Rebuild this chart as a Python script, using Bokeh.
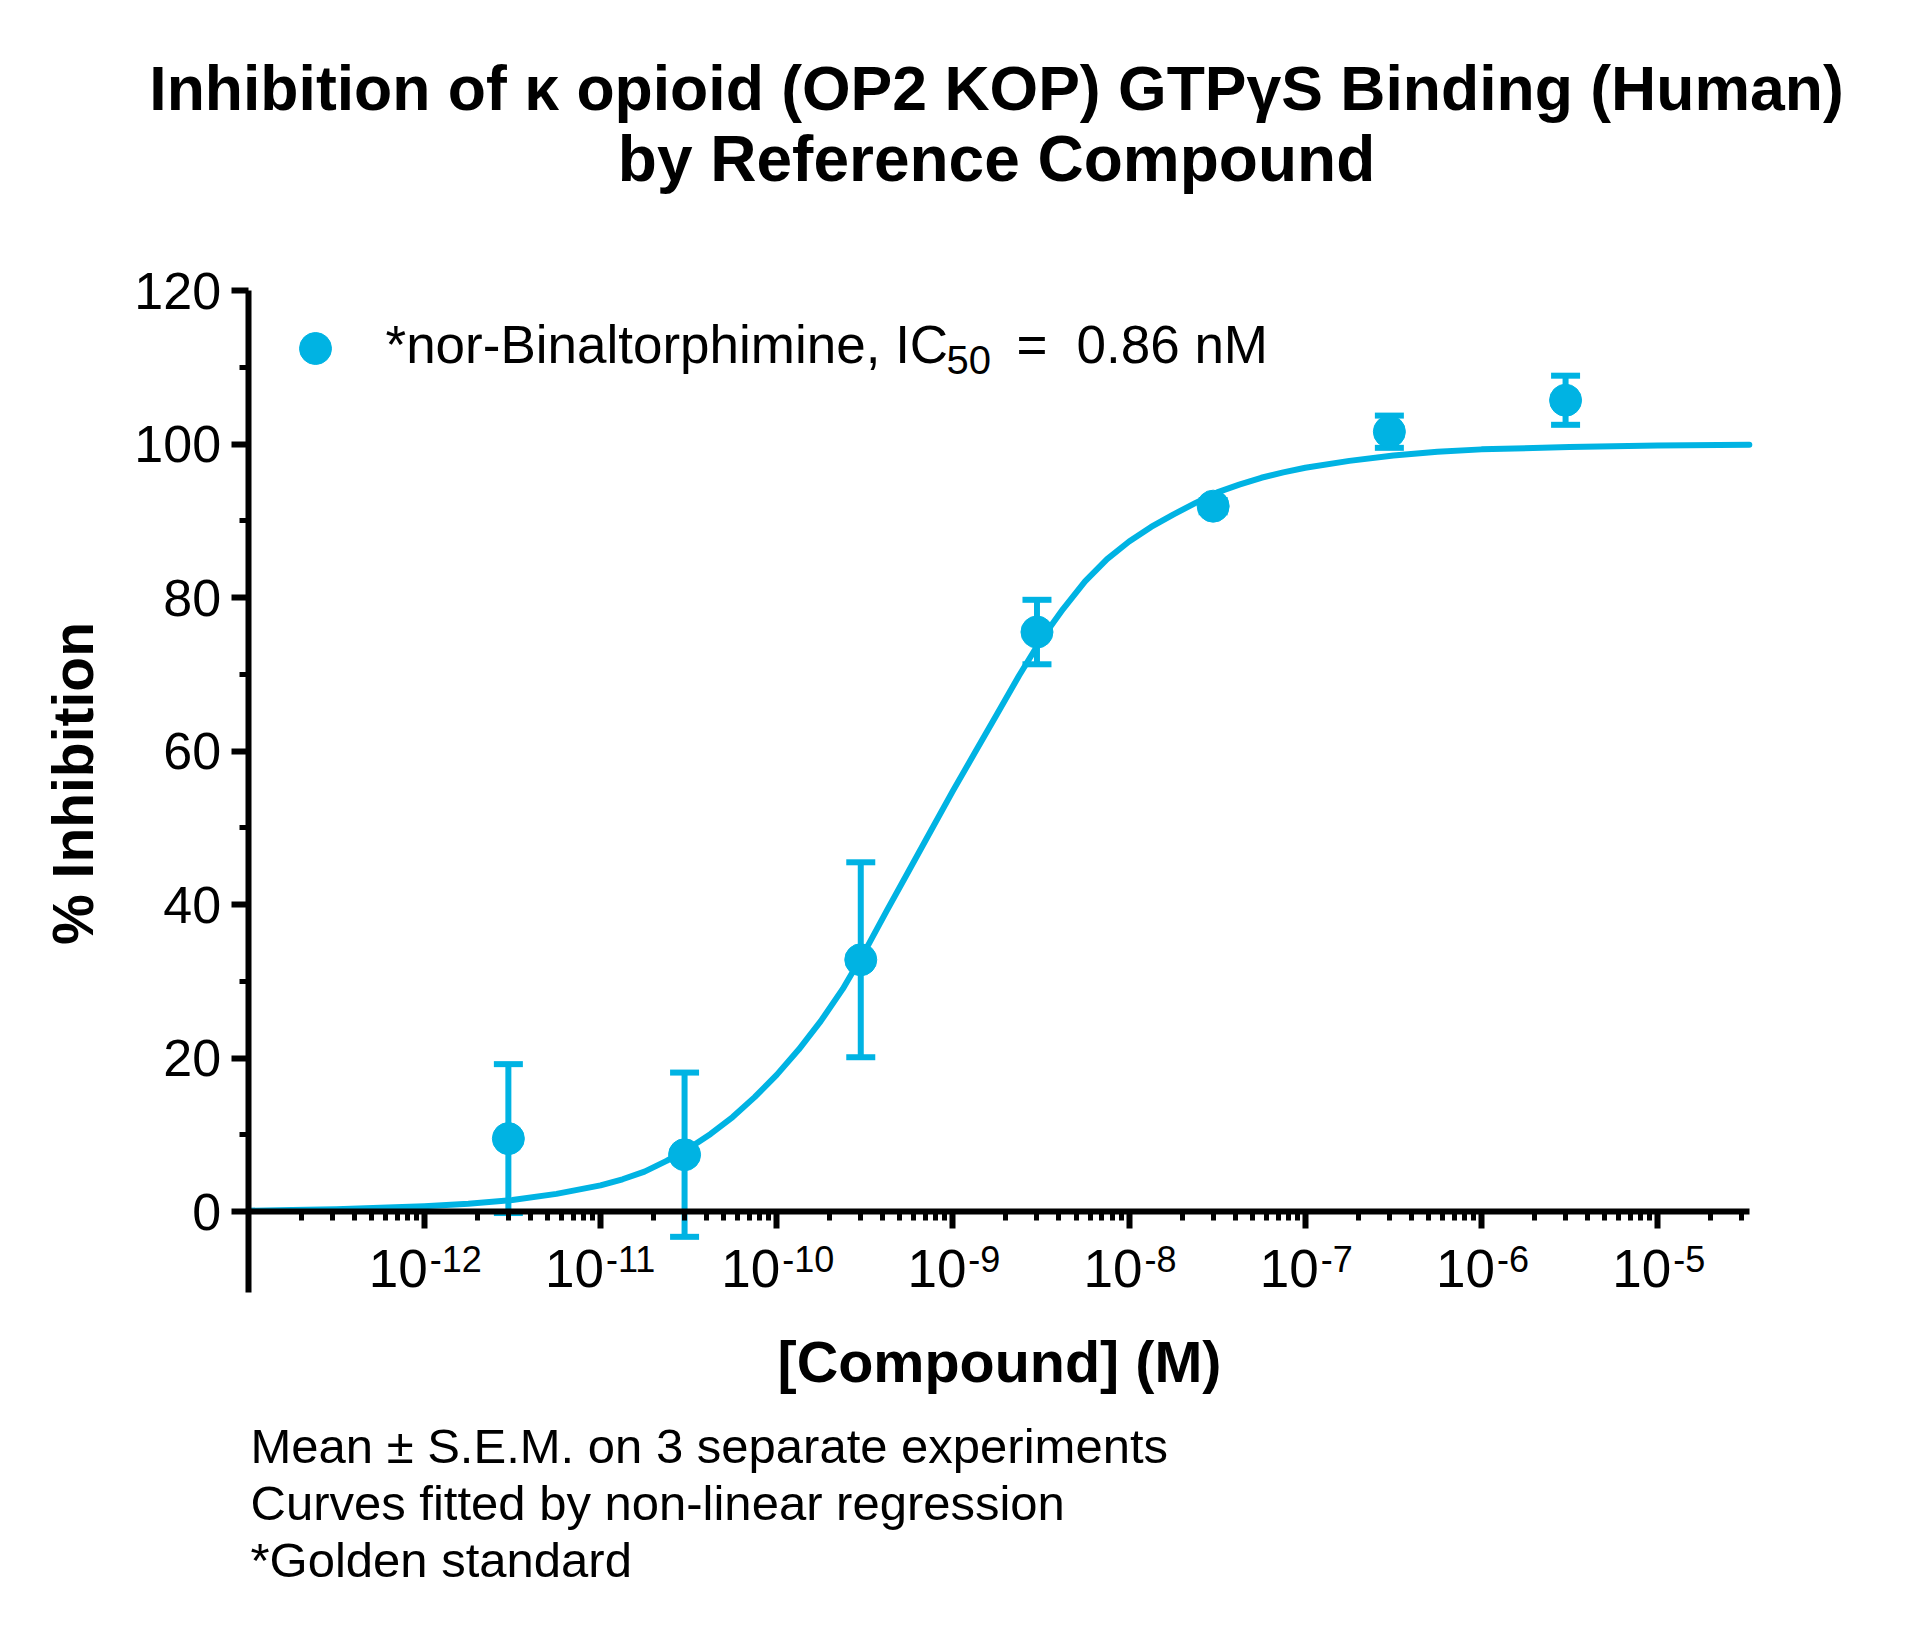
import math
from bokeh.plotting import figure
from bokeh.models import (Range1d, FixedTicker, Label, LabelSet, ColumnDataSource,
                          Whisker, TeeHead, Legend, LegendItem)
from bokeh.core.properties import value
from bokeh.embed import file_html
from bokeh.resources import INLINE

# ---------------- data ----------------
conc_M = [3e-12, 3e-11, 3e-10, 3e-9, 3e-8, 3e-7, 3e-6]
inhib_mean = [9.5, 7.4, 32.8, 75.5, 91.9, 101.6, 105.7]
inhib_sem = [9.7, 10.7, 12.7, 4.2, 0.8, 2.1, 3.2]

curve_log10_M = [-13.0, -12.75, -12.5, -12.25, -12.0, -11.75, -11.5, -11.25, -11.0,
                 -10.875, -10.75, -10.625, -10.5, -10.375, -10.25, -10.125, -10.0,
                 -9.875, -9.75, -9.625, -9.5, -9.375, -9.25, -9.125, -9.0,
                 -8.875, -8.75, -8.625, -8.5, -8.375, -8.25, -8.125, -8.0,
                 -7.875, -7.75, -7.625, -7.5, -7.375, -7.25, -7.125, -7.0,
                 -6.75, -6.5, -6.25, -6.0, -5.5, -5.0, -4.48]
curve_pct = [0.1, 0.2, 0.3, 0.5, 0.7, 1.0, 1.5, 2.3, 3.4,
             4.2, 5.2, 6.6, 8.2, 10.1, 12.3, 14.9, 17.8,
             21.1, 24.8, 29.0, 33.9, 39.2, 44.4, 49.6, 54.8,
             59.8, 64.8, 69.8, 74.5, 78.5, 82.1, 85.0, 87.3,
             89.2, 90.8, 92.3, 93.7, 94.7, 95.6, 96.3, 96.9,
             97.8, 98.5, 99.0, 99.3, 99.6, 99.8, 99.9]

x_major_exp = [-12, -11, -10, -9, -8, -7, -6, -5]
y_major = [0, 20, 40, 60, 80, 100, 120]
y_minor = [10, 30, 50, 70, 90, 110]

title_lines = ["Inhibition of \u03ba opioid (OP2 KOP) GTP\u03b3S Binding (Human)",
               "by Reference Compound"]
legend_name = "*nor-Binaltorphimine, IC"
legend_sub = "50"
legend_eq = "="
legend_value = "0.86 nM"
footer_lines = ["Mean \u00b1 S.E.M. on 3 separate experiments",
                "Curves fitted by non-linear regression",
                "*Golden standard"]
x_title = "[Compound] (M)"
y_title = "% Inhibition"

# ---------------- styling / layout ----------------
BLUE = "#00B3E3"
FONT = "Liberation Sans"
W, H = 1920, 1628

X_DEC_PX = 176.2          # pixels per decade
X_REF_PX, X_REF_LOG = 600.0, -11.0
Y_ZERO_PX, Y_UNIT_PX = 1211.0, 7.675

x_lo = 10 ** (X_REF_LOG - X_REF_PX / X_DEC_PX)
x_hi = 10 ** (X_REF_LOG + (W - X_REF_PX) / X_DEC_PX)
y_hi = Y_ZERO_PX / Y_UNIT_PX
y_lo = (Y_ZERO_PX - H) / Y_UNIT_PX

x_axis_start, x_axis_end = 1e-13, 10 ** -4.479
y_axis_start, y_axis_end = -10.5, 120

p = figure(width=W, height=H, x_axis_type="log",
           x_range=Range1d(x_lo, x_hi), y_range=Range1d(y_lo, y_hi),
           output_backend="svg", toolbar_location=None,
           min_border=0, min_border_left=0, min_border_right=0,
           min_border_top=0, min_border_bottom=0)
p.outline_line_color = None
p.grid.visible = False
p.background_fill_color = "white"
p.border_fill_color = "white"

major_ticks = [10.0 ** e for e in x_major_exp]
minor_ticks = []
for e in range(-13, -4):
    for k in range(2, 10):
        v = k * 10.0 ** e
        if v < x_axis_end:
            minor_ticks.append(v)

xa = p.xaxis[0]
xa.ticker = FixedTicker(ticks=major_ticks, minor_ticks=minor_ticks)
xa.major_label_text_font_size = "0px"
xa.major_label_text_alpha = 0
xa.fixed_location = 0
xa.bounds = (x_axis_start, x_axis_end)
ya = p.yaxis[0]
ya.ticker = FixedTicker(ticks=y_major, minor_ticks=y_minor)
ya.fixed_location = x_axis_start
ya.bounds = (y_axis_start, y_axis_end)
for ax in (xa, ya):
    ax.axis_line_width = 6
    ax.axis_line_color = "black"
    ax.major_tick_line_width = 6
    ax.minor_tick_line_width = 5
    ax.major_tick_out = 17
    ax.major_tick_in = 0
    ax.minor_tick_out = 9
    ax.minor_tick_in = 0
    ax.major_tick_line_color = "black"
    ax.minor_tick_line_color = "black"
ya.major_label_text_font = FONT
ya.major_label_text_font_size = "52px"
ya.major_label_text_color = "black"
ya.major_label_standoff = 10

# fitted curve
curve_x = [10.0 ** v for v in curve_log10_M]
p.line(curve_x, curve_pct, line_color=BLUE, line_width=6, line_join="round",
       line_cap="round")

# error bars + points
src = ColumnDataSource(dict(
    x=conc_M, y=inhib_mean,
    upper=[m + s for m, s in zip(inhib_mean, inhib_sem)],
    lower=[m - s for m, s in zip(inhib_mean, inhib_sem)]))
wh = Whisker(base="x", upper="upper", lower="lower", source=src, dimension="height",
             line_color=BLUE, line_width=6, level="underlay",
             upper_head=TeeHead(size=29, line_color=BLUE, line_width=6),
             lower_head=TeeHead(size=29, line_color=BLUE, line_width=6))
p.add_layout(wh)
pts = p.scatter("x", "y", source=src, marker="circle", size=32,
                fill_color=BLUE, line_color=BLUE)

# legend symbol (box bottom-left in frame pixels)
LEG_CX, LEG_CY, LEG_BOX = 315, 348, 80
leg = Legend(items=[LegendItem(label=" ", renderers=[pts])],
             location=(LEG_CX - LEG_BOX // 2, H - (LEG_CY + LEG_BOX // 2)),
             glyph_width=LEG_BOX, glyph_height=LEG_BOX,
             padding=0, margin=0, label_standoff=0, spacing=0,
             border_line_color=None, background_fill_alpha=0,
             label_text_font_size="1px")
p.add_layout(leg)

BASELINE_FIX = 0.35   # Label draws alphabetic text about 0.35 em lower than asked


def add_text(txt, px, py, size, bold=False, align="left", baseline="alphabetic", angle=0.0):
    if baseline == "alphabetic" and angle == 0.0:
        py = py - BASELINE_FIX * size
    p.add_layout(Label(x=px, y=H - py, x_units="screen", y_units="screen",
                       text=txt, text_font=FONT, text_font_size=f"{size}px",
                       text_font_style="bold" if bold else "normal",
                       text_color="black", text_align=align,
                       text_baseline=baseline, angle=angle))


# titles
add_text(title_lines[0], 996, 109, 62.5, bold=True, align="center")
add_text(title_lines[1], 996, 181, 64, bold=True, align="center")

# legend text
add_text(legend_name, 385, 363, 53)
add_text(legend_sub, 946, 373, 40)
add_text(legend_eq, 1016, 363, 53)
add_text(legend_value, 1076, 363, 53)

# axis titles
add_text(x_title, 999, 1382, 57.5, bold=True, align="center")
add_text(y_title, 72, 783, 57, bold=True, align="center", baseline="middle",
         angle=math.pi / 2)

# footer
for i, line in enumerate(footer_lines):
    add_text(line, 250, 1463 + 57 * i, 49)

# x tick labels: "10" with superscript exponent
BASE_SIZE, SUP_SIZE = 53, 36
w_base = 1.112 * BASE_SIZE
sups = [str(e) for e in x_major_exp]
w_sups = [(0.333 + 0.556 * (len(s) - 1)) * SUP_SIZE for s in sups]
tick_src = ColumnDataSource(dict(
    x=major_ticks,
    base=["10"] * len(major_ticks),
    sup=sups,
    dxb=[(w_base - ws) / 2 for ws in w_sups],
    dxs=[(w_base - ws) / 2 + 2 for ws in w_sups]))
p.add_layout(LabelSet(x="x", y=H - 1286, y_units="screen", text="base", source=tick_src,
                      x_offset="dxb", text_align="right", text_baseline="alphabetic",
                      text_font=value(FONT), text_font_size=value(f"{BASE_SIZE}px"),
                      text_color="black"))
p.add_layout(LabelSet(x="x", y=H - 1271, y_units="screen", text="sup", source=tick_src,
                      x_offset="dxs", text_align="left", text_baseline="alphabetic",
                      text_font=value(FONT), text_font_size=value(f"{SUP_SIZE}px"),
                      text_color="black"))

open("out.html", "w").write(file_html(p, INLINE))
